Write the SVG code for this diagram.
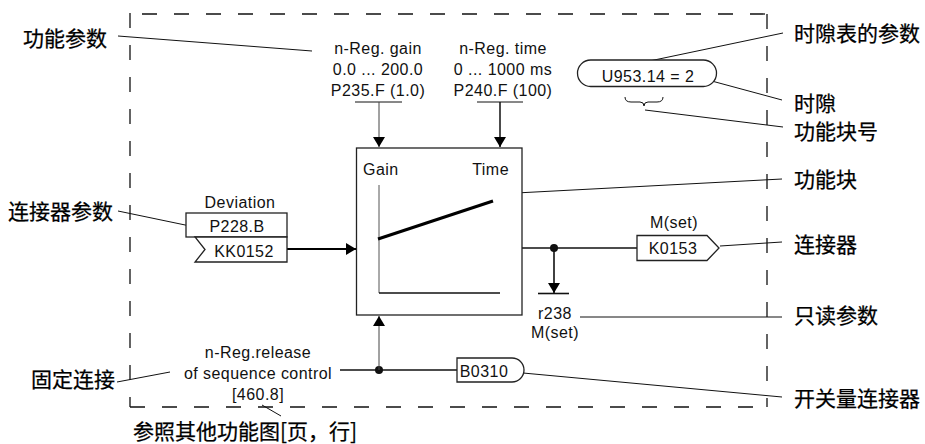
<svg xmlns="http://www.w3.org/2000/svg" width="925" height="444" viewBox="0 0 925 444">
<style>
.t{font-family:"Liberation Sans",Arial,sans-serif;font-size:16px;letter-spacing:0.45px;fill:#111}
.c{font-family:"Noto Sans CJK SC","Noto Sans",sans-serif;font-size:21px;font-weight:normal;fill:#000;stroke:#000;stroke-width:0.25}
.m{text-anchor:middle}
.ln{stroke:#111;stroke-width:1;fill:none}
.bx{stroke:#222;stroke-width:1.3;fill:#fff}
.w{stroke:#111;stroke-width:1.6;fill:none}
.dash{stroke:#111;stroke-width:1.3;fill:none;stroke-dasharray:15 17}
</style>
<defs>
<marker id="ah" viewBox="0 0 10 12" refX="10" refY="6" markerWidth="10" markerHeight="12" markerUnits="userSpaceOnUse" orient="auto">
<path d="M0,0 L10,6 L0,12 Z" fill="#000"/>
</marker>
</defs>
<rect width="925" height="444" fill="#fff"/>

<g id="frame">
<line class="dash" x1="142" y1="14" x2="767" y2="14"/>
<line class="dash" x1="130" y1="13" x2="130" y2="407"/>
<line class="dash" x1="767" y1="14" x2="767" y2="407"/>
<line class="dash" x1="130" y1="407" x2="767" y2="407"/>
</g>

<g id="connectors">
<line class="ln" x1="355" y1="102" x2="402" y2="102"/>
<line class="ln" x1="477" y1="102" x2="523" y2="102"/>
<line x1="379" y1="102" x2="379" y2="147" stroke="#444" stroke-width="1" marker-end="url(#ah)"/>
<line x1="500" y1="102" x2="500" y2="147" stroke="#111" stroke-width="1.5" marker-end="url(#ah)"/>
<line x1="287" y1="249" x2="356" y2="249" stroke="#000" stroke-width="2" marker-end="url(#ah)"/>
<line class="w" x1="522" y1="248" x2="637" y2="248"/>
<circle cx="554" cy="248" r="4" fill="#111"/>
<line class="w" x1="554" y1="248" x2="554" y2="293" marker-end="url(#ah)"/>
<line class="w" x1="538" y1="293.5" x2="569" y2="293.5"/>
<line class="w" x1="340" y1="370" x2="457" y2="370"/>
<circle cx="379" cy="370" r="4" fill="#111"/>
<line x1="379" y1="370" x2="379" y2="316" stroke="#444" stroke-width="1" marker-end="url(#ah)"/>
</g>

<g id="leaders">
<line class="ln" x1="118" y1="36" x2="312" y2="51"/>
<line class="ln" x1="118" y1="211" x2="190" y2="226"/>
<line class="ln" x1="117" y1="382" x2="170" y2="372"/>
<line class="ln" x1="262" y1="405" x2="281" y2="416"/>
<line class="ln" x1="640" y1="63" x2="783" y2="33"/>
<line class="ln" x1="708" y1="80" x2="782" y2="100"/>
<line class="ln" x1="645" y1="110" x2="783" y2="127"/>
<line class="ln" x1="516" y1="193" x2="782" y2="179"/>
<line class="ln" x1="720" y1="246" x2="782" y2="242"/>
<line class="ln" x1="580" y1="317" x2="782" y2="317"/>
<line class="ln" x1="523" y1="373" x2="782" y2="397"/>
</g>

<g id="param-gain">
<text class="t m" x="378" y="54">n-Reg. gain</text>
<text class="t m" x="378" y="75">0.0 ... 200.0</text>
<text class="t m" x="378" y="95.5">P235.F (1.0)</text>
</g>
<g id="param-time">
<text class="t m" x="503" y="54">n-Reg. time</text>
<text class="t m" x="503" y="75">0 ... 1000 ms</text>
<text class="t m" x="503" y="95.5">P240.F (100)</text>
</g>

<g id="slot">
<rect class="bx" x="577.5" y="60" width="139" height="26.5" rx="13.2"/>
<text class="t m" x="648" y="82">U953.14 = 2</text>
<path class="ln" d="M625,97 Q625,102 631,102 L640,102 Q644,102 644,106 Q644,102 648,102 L657,102 Q663,102 663,97"/>
</g>

<g id="block">
<rect class="bx" x="356.5" y="148" width="165.5" height="167" fill="none"/>
<text class="t" x="363" y="175">Gain</text>
<text class="t" x="509" y="175" text-anchor="end">Time</text>
<line x1="379" y1="185" x2="379" y2="293" stroke="#555" stroke-width="1"/>
<line x1="379" y1="293" x2="500" y2="293" stroke="#111" stroke-width="1.3"/>
<line x1="378" y1="239" x2="493" y2="201" stroke="#000" stroke-width="3"/>
</g>

<g id="input">
<text class="t m" x="240" y="208">Deviation</text>
<rect class="bx" x="186" y="213" width="101" height="24"/>
<text class="t m" x="237" y="232">P228.B</text>
<path class="bx" d="M195,237 L287,237 L287,262 L195,262 L205,249.5 Z"/>
<text class="t m" x="244" y="257">KK0152</text>
</g>

<g id="output">
<text class="t m" x="674" y="228">M(set)</text>
<path class="bx" d="M637,235.5 L707,235.5 L719,248 L707,260.5 L637,260.5 Z"/>
<text class="t m" x="673" y="253.5">K0153</text>
</g>

<g id="readonly">
<text class="t m" x="555" y="319">r238</text>
<text class="t m" x="555" y="338">M(set)</text>
</g>

<g id="binector">
<path class="bx" d="M457,358 L512,358 A12,12 0 0 1 512,382 L457,382 Z"/>
<text class="t m" x="484" y="377">B0310</text>
</g>

<g id="release">
<text class="t m" x="258" y="358">n-Reg.release</text>
<text class="t m" x="258" y="379">of sequence control</text>
<text class="t m" x="258" y="400">[460.8]</text>
</g>

<g id="labels">
<text class="c" x="23" y="46">功能参数</text>
<text class="c" x="8" y="219">连接器参数</text>
<text class="c" x="31" y="387">固定连接</text>
<text class="c" x="133" y="439">参照其他功能图[页，行]</text>
<text class="c" x="794" y="41">时隙表的参数</text>
<text class="c" x="794" y="111">时隙</text>
<text class="c" x="794" y="139">功能块号</text>
<text class="c" x="794" y="187">功能块</text>
<text class="c" x="794" y="252">连接器</text>
<text class="c" x="794" y="323">只读参数</text>
<text class="c" x="794" y="406">开关量连接器</text>
</g>
</svg>
